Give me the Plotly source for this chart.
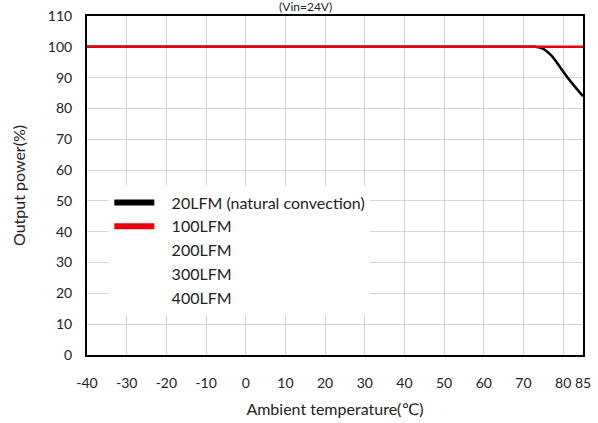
import plotly.graph_objects as go

temp_black = [-40, 70, 73, 75, 77, 79, 81, 83, 85]
power_black = [100, 100, 100, 99.3, 97.2, 93.8, 90.2, 87, 84]
temp_red = [-40, 85]
power_red = [100, 100]

legend_names = ["20LFM (natural convection)", "100LFM", "200LFM", "300LFM", "400LFM"]
legend_colors = ["black", "#e8000b", "rgba(0,0,0,0)", "rgba(0,0,0,0)", "rgba(0,0,0,0)"]

x_ticks = [-40, -30, -20, -10, 0, 10, 20, 30, 40, 50, 60, 70, 80, 85]
y_ticks = [0, 10, 20, 30, 40, 50, 60, 70, 80, 90, 100, 110]

font_family = "Lato, DejaVu Sans, sans-serif"

fig = go.Figure()
fig.add_trace(go.Scatter(x=temp_black, y=power_black, mode="lines",
                         line=dict(color="black", width=2.5, shape="spline"),
                         showlegend=False))
fig.add_trace(go.Scatter(x=temp_red, y=power_red, mode="lines",
                         line=dict(color="#e8000b", width=2.5),
                         showlegend=False))
for name, col in zip(legend_names, legend_colors):
    fig.add_trace(go.Scatter(x=[None], y=[None], mode="lines", name="\u00a0\u00a0\u00a0" + name,
                             line=dict(color=col, width=6)))

fig.update_layout(
    width=598, height=423,
    margin=dict(l=87, r=15, t=16, b=68),
    paper_bgcolor="white", plot_bgcolor="white",
    font=dict(family=font_family, size=14, color="#222"),
    showlegend=True,
    legend=dict(x=0.045, y=0.5, xanchor="left", yanchor="top",
                bgcolor="white", font=dict(size=16, color="#222"),
                itemwidth=40, tracegroupgap=0),
    xaxis=dict(range=[-40, 85], tickmode="array", tickvals=x_ticks,
               ticktext=[str(v) for v in x_ticks],
               showgrid=True, gridcolor="#d4d4d4", gridwidth=1,
               showline=True, linecolor="black", linewidth=2, mirror=True,
               ticks="", zeroline=False, automargin=False, ticklabelstandoff=14,
               title=dict(text="Ambient temperature(℃)", font=dict(size=16), standoff=14)),
    yaxis=dict(range=[0, 110], tickmode="array", tickvals=y_ticks,
               showgrid=True, gridcolor="#d4d4d4", gridwidth=1,
               showline=True, linecolor="black", linewidth=2, mirror=True,
               ticks="", zeroline=False, automargin=False, ticklabelstandoff=10,
               title=dict(text="Output power(%)", font=dict(size=16), standoff=18)),
)
fig.add_annotation(text="(Vin=24V)", xref="paper", yref="paper", x=0.44, y=1,
                   yanchor="bottom", yshift=1, showarrow=False, borderpad=0,
                   font=dict(size=12, color="#222"))
fig.write_html("out.html", config={"displayModeBar": False},
               post_script="document.body.style.margin='0';")
